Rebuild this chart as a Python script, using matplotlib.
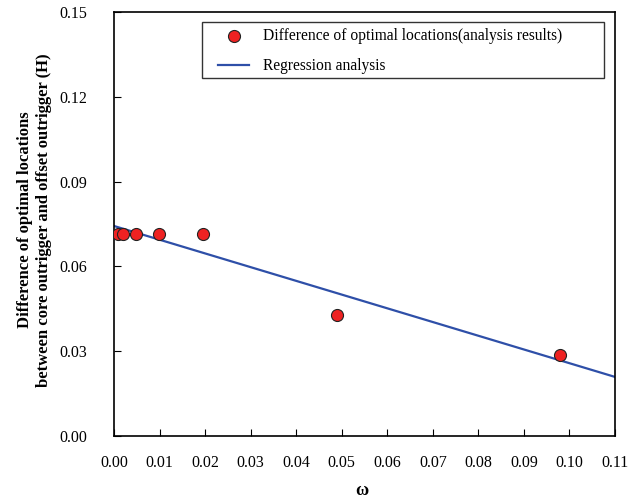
import numpy as np
import matplotlib
matplotlib.use("Agg")
import matplotlib.pyplot as plt
from matplotlib.patches import Rectangle

# analysis results
omega = [0.00098, 0.00196, 0.0049, 0.0098, 0.0196, 0.049, 0.098]
diff_loc = [0.0714, 0.0714, 0.0714, 0.0714, 0.0714, 0.0429, 0.0286]

# regression line end points
reg_x = [0.0, 0.11]
reg_y = [0.0743, 0.0209]

xticks = np.arange(0, 0.111, 0.01)
yticks = np.arange(0, 0.151, 0.03)

plt.rcParams['font.family'] = ['Liberation Serif', 'DejaVu Serif']

fig = plt.figure(figsize=(6.4, 5.01), dpi=100)
ax = fig.add_axes([114 / 640, 65 / 501, 501 / 640, 424 / 501])

ax.plot(reg_x, reg_y, color='#2e4fa8', lw=1.6, label='Regression analysis', zorder=2)
ax.scatter(omega, diff_loc, s=75, color='#ee2222', edgecolor='#222222', lw=0.8,
           label='Difference of optimal locations(analysis results)', zorder=3)

ax.set_xlim(0, 0.11)
ax.set_ylim(0, 0.15)
ax.set_xticks(xticks)
ax.set_yticks(yticks)
ax.set_xticklabels(['%.2f' % v for v in xticks])
ax.set_yticklabels(['%.2f' % v for v in yticks])
ax.tick_params(direction='in', length=5, labelsize=11.5)
ax.tick_params(axis='x', pad=14)
ax.tick_params(axis='y', pad=19)
for sp in ax.spines.values():
    sp.set_linewidth(1.2)

ax.set_xlabel('ω', fontsize=13, fontweight='bold')
ax.xaxis.set_label_coords(0.495, -0.108)
ax.set_ylabel('Difference of optimal locations\nbetween core outrigger and offset outrigger (H)',
              fontsize=12, fontweight='bold')
ax.yaxis.set_label_coords(-0.124, 0.51)

# legend frame drawn separately so the left padding can be wider than the top
ax.add_patch(Rectangle((0.1756, 0.844), 0.802, 0.132, transform=ax.transAxes,
                       fill=True, facecolor='white', edgecolor='#333333', lw=1.0,
                       zorder=4, clip_on=False))
h, l = ax.get_legend_handles_labels()
leg = ax.legend(h[::-1], l[::-1], loc='upper left', fontsize=11.2, frameon=False,
                borderpad=0, labelspacing=0.9, handlelength=2.0, handletextpad=0.9,
                borderaxespad=0, bbox_to_anchor=(0.2076, 0.962))
leg.set_zorder(5)

fig.savefig('out.png', dpi=100)
